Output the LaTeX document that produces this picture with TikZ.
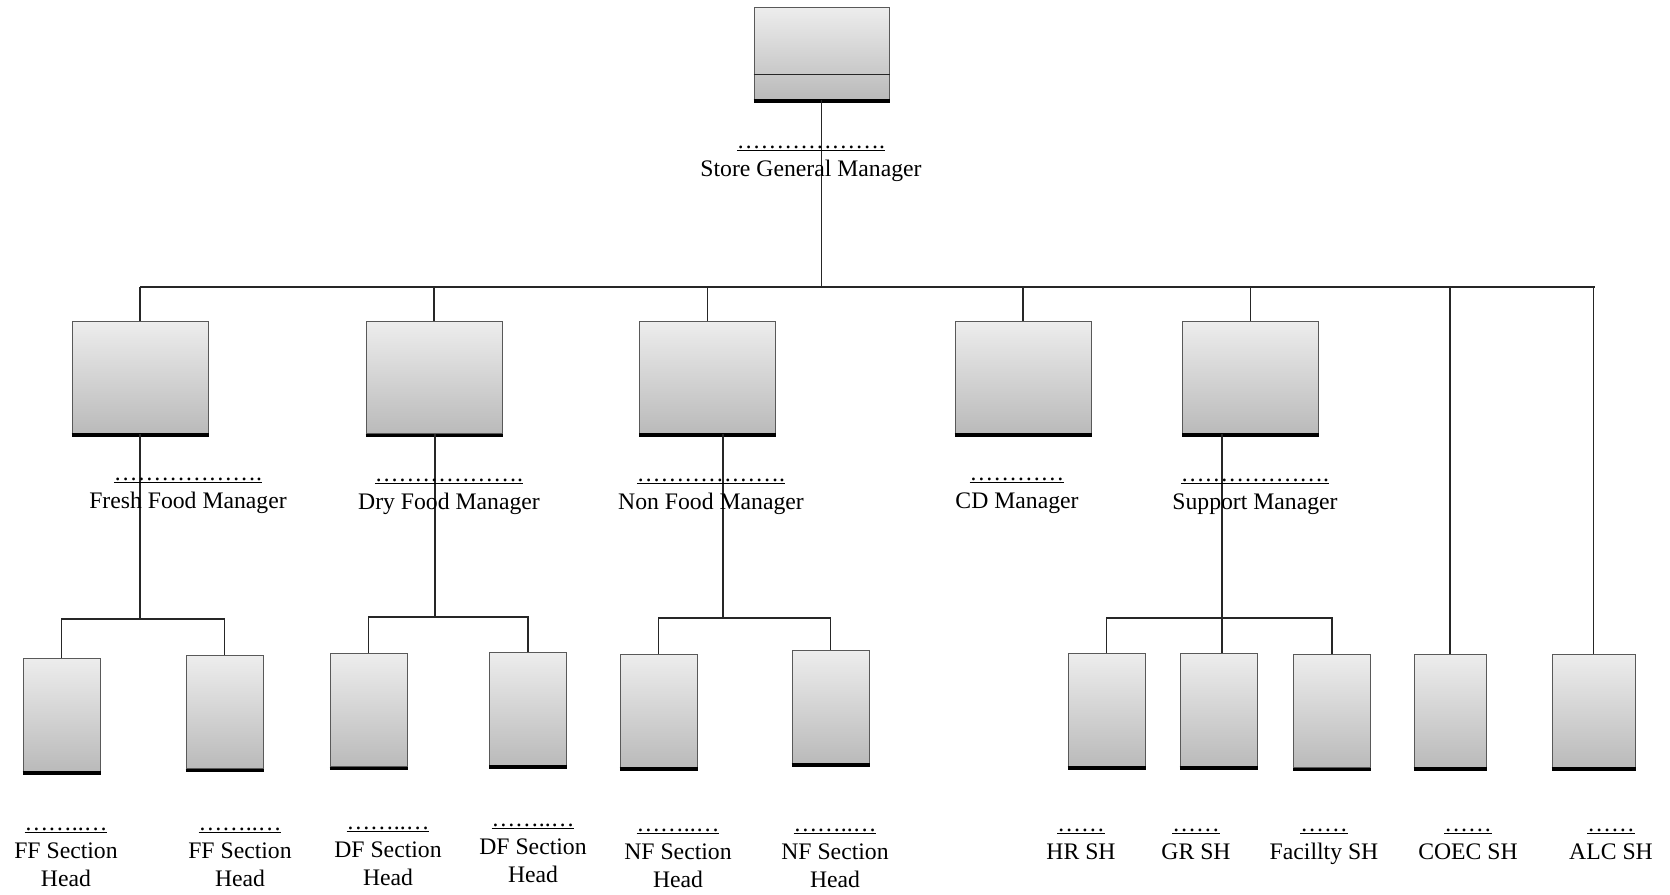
\documentclass[tikz,border=0pt]{standalone}
\usepackage{fontspec}
\setmainfont{Liberation Serif}
\usetikzlibrary{positioning}

\newcommand{\blank}[1]{\underline{#1}}

\begin{document}
\begin{tikzpicture}[x=1pt, y=-1pt,
		topbox/.style={rectangle, draw=black!65, line width=1pt, top color=black!7, bottom color=black!27, minimum width=135pt, minimum height=92pt, inner sep=0pt},
		mgrbox/.style={topbox, minimum width=136pt, minimum height=112pt},
		shbox/.style={topbox, minimum width=77pt, minimum height=113pt},
		mylabel/.style={align=center, anchor=base, inner sep=0pt, font=\fontsize{23.7}{28}\selectfont},
		link/.style={draw=black!85, line width=1.2pt}
	]

	\useasboundingbox (0,0) rectangle (1670,894);

	\node[topbox] (gm) at (821.5,53) {};
	\node[mgrbox] (ffm) at (140,377) {};
	\node[mgrbox] (dfm) at (434,377.5) {};
	\node[mgrbox] (nfm) at (707.5,377) {};
	\node[mgrbox] (cdm) at (1023,377) {};
	\node[mgrbox] (spm) at (1250.5,377) {};
	\node[shbox] (ff1) at (61.5,714.5) {};
	\node[shbox] (ff2) at (224.5,712) {};
	\node[shbox] (df1) at (368.5,710) {};
	\node[shbox] (df2) at (528,708.5) {};
	\node[shbox] (nf1) at (658.5,710.5) {};
	\node[shbox] (nf2) at (830.5,706.5) {};
	\node[shbox] (hr) at (1106.5,709.5) {};
	\node[shbox] (gr) at (1218.5,709.5) {};
	\node[shbox] (fac) at (1332,711) {};
	\node[shbox, minimum width=72pt] (coec) at (1450,710.5) {};
	\node[shbox, minimum width=83pt] (alc) at (1593.5,710.5) {};

	\draw[black!85, line width=1pt] ([yshift=-21pt]gm.west) -- ([yshift=-21pt]gm.east);
	\foreach \n in {gm, ffm, dfm, nfm, cdm, spm, ff1, ff2, df1, df2, nf1, nf2, hr, gr, fac, coec, alc}
		\draw[line width=3.5pt] ([yshift=-1.5pt]\n.south west) -- ([yshift=-1.5pt]\n.south east);

	\coordinate (barL) at (140,287);
	\coordinate (barR) at (1595,287);
	\coordinate (ffb) at (140,619);
	\coordinate (dfb) at (435,617);
	\coordinate (nfb) at (723,618);
	\coordinate (spb) at (1222,618);

	\draw[link] (barL) -- (barR);
	\foreach \n in {gm, ffm, dfm, nfm, cdm, spm, coec, alc}
		\draw[link] (\n) -- (\n |- barL);

	\foreach \p/\b in {ffm/ffb, dfm/dfb, nfm/nfb, spm/spb}
		\draw[link] (\b |- \p.south) -- (\b);

	\foreach \a/\b/\c in {ff1/ffb/ff2, df1/dfb/df2, nf1/nfb/nf2, hr/spb/fac}
		\draw[link] (\a) |- (\b) -| (\c);

	\draw[link] (spb) -- (spb |- gr.north);

	\node[mylabel] (gmL) at (811,176) {\blank{……………….}\\Store General Manager};
	\node[mylabel] (ffmL) at (188,508) {\blank{……………….}\\Fresh Food Manager};
	\node[mylabel] (dfmL) at (449,509) {\blank{……………….}\\Dry Food Manager};
	\node[mylabel] (nfmL) at (711,509) {\blank{……………….}\\Non Food Manager};
	\node[mylabel] (cdmL) at (1017,508) {\blank{…………}\\CD Manager};
	\node[mylabel] (spmL) at (1255,509) {\blank{……………….}\\Support Manager};
	\node[mylabel] (ff1L) at (66,886) {\blank{……..…}\\FF Section\\Head};
	\node[mylabel] (ff2L) at (240,886) {\blank{……..…}\\FF Section\\Head};
	\node[mylabel] (df1L) at (388,885) {\blank{……..…}\\DF Section\\Head};
	\node[mylabel] (df2L) at (533,882) {\blank{……..…}\\DF Section\\Head};
	\node[mylabel] (nf1L) at (678,887) {\blank{……..…}\\NF Section\\Head};
	\node[mylabel] (nf2L) at (835,887) {\blank{……..…}\\NF Section\\Head};
	\node[mylabel] (hrL) at (1081,859) {\blank{……}\\HR SH};
	\node[mylabel] (grL) at (1196,859) {\blank{……}\\GR SH};
	\node[mylabel] (facL) at (1324,859) {\blank{……}\\Facillty SH};
	\node[mylabel] (coecL) at (1468,859) {\blank{……}\\COEC SH};
	\node[mylabel] (alcL) at (1611,859) {\blank{……}\\ALC SH};

\end{tikzpicture}
\end{document}
